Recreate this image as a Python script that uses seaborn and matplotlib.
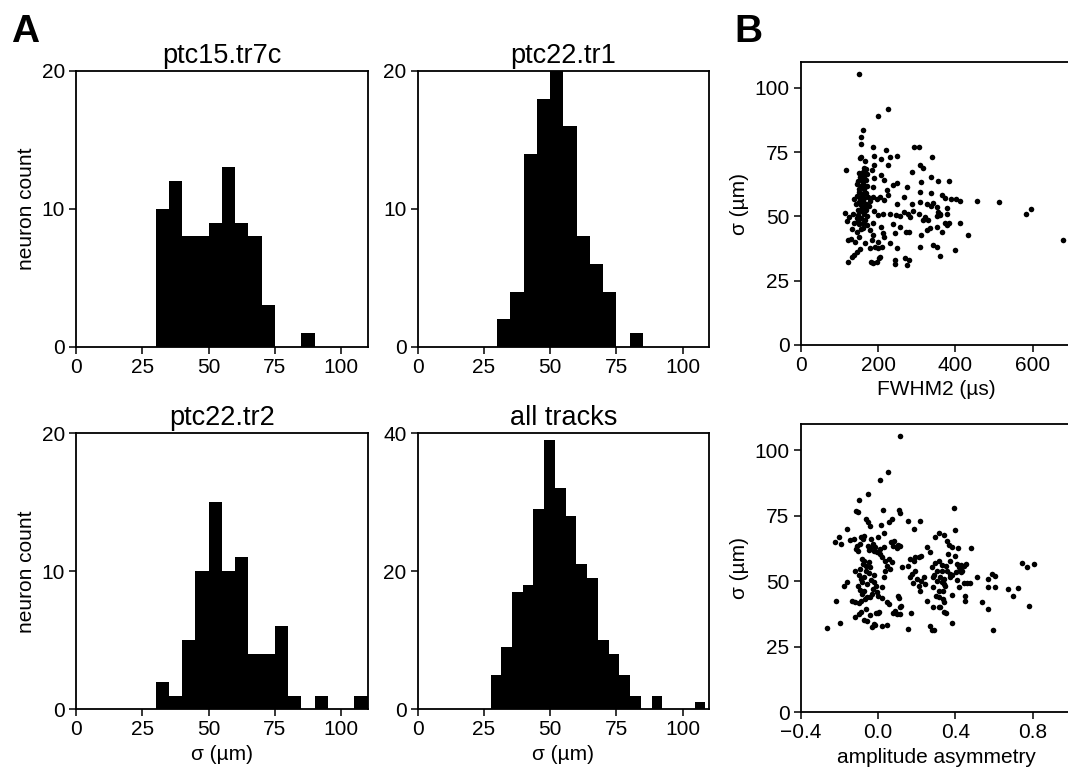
import numpy as np
import pandas as pd
import matplotlib
matplotlib.use('Agg')
import matplotlib.pyplot as plt
import seaborn as sns

sns.set_style('ticks')
plt.rcParams['font.family'] = ['Liberation Sans', 'DejaVu Sans']
plt.rcParams['axes.unicode_minus'] = True
plt.rcParams['text.color'] = 'black'
plt.rcParams['axes.labelcolor'] = 'black'

# --- histogram data (neuron counts per 5 um bin) ---
bin_width = 5
tr7c_start = 30
tr7c_counts = [10, 12, 8, 8, 9, 13, 9, 8, 3, 0, 0, 1]
tr1_start = 30
tr1_counts = [2, 4, 14, 18, 20, 16, 8, 6, 4, 0, 1]
tr2_start = 30
tr2_counts = [2, 1, 5, 10, 15, 10, 11, 4, 4, 6, 1, 0, 1, 0, 0, 1]
# all tracks: 20 equal bins between min and max sigma
all_lo, all_hi = 27.5, 108.5
all_counts = [5, 9, 17, 18, 29, 39, 32, 28, 21, 19, 10, 8, 5, 2, 0, 2, 0, 0, 0, 1]

hist_titles = ['ptc15.tr7c', 'ptc22.tr1', 'ptc22.tr2', 'all tracks']
hist_ymax = [20, 20, 20, 40]
hist_yticks = [[0, 10, 20], [0, 10, 20], [0, 10, 20], [0, 20, 40]]
hist_xticks = [0, 25, 50, 75, 100]

# --- scatter data: (FWHM2 in us, sigma in um) ---
fwhm_pts = [
    (150.8, 105.6), (226.7, 91.9), (200.0, 88.9), (162.0, 83.6), (156.9, 81.1), (155.1, 78.1),
    (186.2, 77.0), (293.9, 77.2), (305.1, 77.1), (220.6, 75.8), (190.5, 73.7), (152.5, 72.9),
    (156.0, 73.2), (208.6, 72.4), (231.0, 73.2), (250.0, 73.7), (340.5, 73.2), (165.5, 71.6),
    (226.7, 70.1), (190.5, 70.1), (118.1, 68.1), (185.3, 68.1), (308.6, 70.1), (317.2, 68.7),
    (288.7, 67.1), (150.8, 67.0), (162.0, 67.4), (168.9, 68.3), (153.4, 65.4), (163.7, 65.7),
    (172.4, 66.5), (149.1, 63.8), (160.3, 63.5), (168.9, 64.1), (156.0, 61.8), (163.7, 60.5),
    (157.7, 58.9), (163.7, 57.0), (168.9, 55.0), (158.6, 53.1), (164.6, 51.1), (155.1, 49.2),
    (162.0, 47.3), (145.0, 62.5), (158.0, 66.0), (167.0, 62.0), (152.0, 59.5), (160.0, 56.0),
    (170.0, 59.0), (150.0, 55.5), (157.0, 52.0), (166.0, 54.0), (148.0, 50.5), (172.0, 50.0),
    (160.0, 45.5), (206.8, 66.1), (189.6, 65.0), (215.5, 64.0), (239.6, 62.2), (248.2, 62.8),
    (186.2, 61.5), (222.4, 60.2), (275.0, 61.3), (310.3, 63.3), (337.9, 65.4), (356.0, 63.9),
    (382.7, 63.6), (308.6, 59.6), (336.1, 59.2), (366.3, 58.5), (374.1, 57.1), (138.7, 56.6),
    (187.9, 57.6), (196.5, 56.6), (205.1, 57.4), (215.5, 56.3), (179.3, 56.1), (226.7, 58.5),
    (248.2, 54.8), (268.0, 57.6), (287.0, 55.0), (308.6, 55.7), (325.8, 55.0), (343.0, 55.3),
    (351.7, 53.7), (336.1, 54.0), (356.0, 51.8), (360.3, 51.1), (377.5, 53.1), (388.7, 56.7),
    (400.8, 56.7), (412.9, 55.8), (456.8, 56.1), (512.9, 55.4), (581.8, 50.9), (594.8, 52.8),
    (114.6, 51.4), (125.8, 49.9), (118.9, 48.3), (134.4, 51.1), (144.8, 49.2), (149.1, 48.3),
    (190.5, 52.1), (200.8, 50.5), (213.7, 51.1), (231.0, 50.9), (246.5, 50.4), (256.8, 50.1),
    (267.2, 51.8), (278.4, 51.1), (282.7, 49.9), (291.3, 52.2), (306.8, 51.1), (321.5, 49.9),
    (330.1, 48.6), (317.2, 48.6), (353.4, 50.1), (360.3, 50.6), (377.5, 51.1), (373.2, 47.5),
    (377.5, 46.6), (384.4, 47.5), (412.0, 47.3), (170.6, 46.6), (187.9, 47.3), (206.8, 46.0),
    (239.6, 47.0), (256.8, 46.0), (271.5, 44.0), (281.0, 44.0), (156.8, 44.9), (179.3, 44.7),
    (187.9, 42.7), (212.0, 43.6), (215.5, 42.1), (243.9, 43.6), (311.1, 42.7), (325.8, 44.7),
    (334.4, 45.3), (351.7, 46.0), (364.6, 44.0), (123.2, 40.8), (130.1, 41.3), (140.5, 40.1),
    (151.7, 42.1), (165.5, 39.7), (183.6, 40.8), (200.8, 40.1), (231.0, 39.7), (209.4, 38.2),
    (200.8, 37.5), (179.3, 37.8), (192.2, 38.2), (248.2, 37.5), (307.7, 38.2), (343.0, 38.8),
    (351.7, 37.9), (360.3, 34.4), (400.0, 36.9), (431.8, 42.6), (677.5, 40.8), (153.4, 37.1),
    (144.8, 36.2), (137.9, 34.9), (131.9, 34.0), (122.4, 32.4), (181.8, 32.1), (187.9, 31.7),
    (201.7, 33.6), (198.2, 32.4), (205.1, 34.3), (243.9, 33.0), (243.9, 31.4), (270.6, 33.6),
    (280.1, 33.0), (274.1, 31.1), (146.0, 58.0), (154.0, 57.0), (165.0, 59.0), (171.0, 62.0),
    (150.0, 60.5), (158.0, 64.5), (163.0, 69.0), (148.0, 52.5), (155.0, 54.5), (169.0, 52.5),
    (175.0, 57.5), (143.0, 55.0), (152.0, 47.0), (167.0, 48.5), (176.0, 54.0), (145.0, 44.0),
    (139.0, 47.5), (133.0, 45.0),
]

# --- scatter data: (amplitude asymmetry, sigma in um) ---
asym_pts = [
    (0.112, 105.4), (0.050, 91.7), (0.010, 88.7), (-0.054, 83.5), (-0.100, 81.0), (-0.112, 76.8),
    (-0.106, 76.5), (0.025, 77.1), (0.108, 77.1), (0.115, 75.9), (-0.064, 73.7), (-0.052, 72.5),
    (-0.040, 71.2), (0.017, 71.6), (0.055, 72.7), (0.072, 73.7), (0.153, 73.1), (0.219, 73.1),
    (-0.162, 69.9), (0.187, 69.9), (0.393, 77.9), (0.396, 69.7), (-0.200, 67.0), (-0.225, 65.1),
    (-0.190, 64.2), (-0.144, 65.7), (-0.126, 66.1), (-0.088, 67.0), (-0.071, 67.4), (-0.078, 66.1),
    (-0.037, 66.1), (-0.002, 67.0), (0.029, 68.3), (-0.109, 63.6), (-0.095, 64.2), (-0.112, 62.3),
    (-0.106, 61.4), (-0.052, 63.6), (-0.040, 62.7), (-0.026, 64.2), (-0.014, 62.9), (-0.049, 61.9),
    (-0.019, 61.7), (-0.005, 61.0), (0.012, 62.3), (0.008, 60.4), (0.032, 63.2), (0.069, 65.1),
    (0.084, 65.5), (0.077, 63.6), (0.106, 64.0), (0.098, 62.7), (0.115, 63.6), (0.124, 55.3),
    (0.153, 55.9), (0.167, 58.5), (0.184, 57.8), (0.193, 59.1), (0.210, 59.4), (0.222, 59.6),
    (0.253, 63.2), (0.267, 61.0), (0.296, 67.0), (0.317, 68.6), (0.339, 67.8), (0.356, 65.2),
    (0.365, 63.8), (0.382, 63.2), (0.362, 60.4), (0.400, 59.6), (0.370, 57.8), (0.331, 56.3),
    (0.353, 55.9), (0.408, 56.6), (0.417, 55.3), (0.429, 56.3), (0.443, 55.9), (0.456, 56.6),
    (0.425, 54.7), (0.434, 54.0), (0.331, 54.0), (0.356, 54.0), (0.374, 52.8), (0.405, 53.4),
    (0.429, 53.4), (0.322, 51.5), (0.339, 50.9), (0.374, 51.5), (0.382, 52.2), (0.408, 50.6),
    (0.339, 49.0), (0.348, 48.3), (0.446, 49.4), (0.460, 49.2), (0.474, 49.2), (0.513, 51.5),
    (0.567, 50.7), (0.589, 52.8), (0.606, 52.0), (0.420, 47.7), (0.569, 47.7), (0.606, 47.7),
    (0.675, 47.1), (0.722, 47.3), (0.696, 44.3), (0.336, 46.4), (0.382, 44.9), (0.448, 44.2),
    (0.448, 42.4), (0.336, 43.3), (0.339, 42.0), (0.536, 42.2), (0.779, 40.7), (0.569, 39.2),
    (0.353, 37.9), (0.322, 40.1), (0.382, 34.1), (0.593, 31.2), (0.479, 62.8), (0.415, 62.7),
    (0.743, 56.8), (0.772, 55.3), (0.808, 56.6), (0.175, 52.8), (0.193, 54.0), (0.163, 51.5),
    (0.201, 50.9), (0.180, 49.2), (0.210, 48.0), (0.222, 50.0), (0.236, 51.5), (0.219, 46.4),
    (0.244, 49.0), (0.253, 42.6), (0.279, 55.6), (0.296, 56.8), (0.313, 57.8), (0.305, 54.0),
    (0.291, 52.2), (0.284, 51.5), (0.305, 50.2), (0.331, 49.6), (0.287, 47.7), (0.313, 46.4),
    (0.301, 44.5), (0.318, 43.9), (0.284, 40.0), (0.313, 40.0), (0.267, 32.7), (0.279, 31.2),
    (0.291, 31.2), (0.156, 31.6), (0.169, 37.8), (0.103, 44.2), (0.110, 43.5), (0.115, 40.1),
    (0.112, 37.3), (0.118, 40.7), (0.075, 37.8), (0.089, 38.6), (0.020, 32.7), (0.046, 33.4),
    (-0.023, 33.7), (-0.031, 32.5), (-0.014, 33.1), (-0.002, 37.8), (0.003, 38.2), (-0.071, 35.3),
    (-0.057, 34.8), (-0.121, 36.3), (-0.100, 37.3), (-0.087, 38.2), (-0.061, 39.5), (-0.135, 42.6),
    (-0.118, 42.0), (-0.100, 41.6), (-0.216, 42.4), (-0.264, 32.1), (-0.199, 34.1), (-0.040, 36.9),
    (-0.009, 37.8), (0.046, 42.0), (0.055, 41.1), (0.098, 37.6), (0.343, 38.2), (-0.088, 42.4),
    (-0.066, 43.3), (-0.040, 43.9), (-0.083, 45.2), (-0.075, 46.2), (-0.057, 43.9), (-0.031, 45.2),
    (-0.005, 45.8), (-0.002, 44.3), (-0.106, 48.1), (-0.095, 46.7), (-0.161, 49.6), (-0.175, 48.3),
    (-0.118, 54.0), (-0.100, 52.5), (-0.088, 50.9), (-0.075, 51.5), (-0.083, 49.6), (-0.061, 54.0),
    (-0.044, 53.0), (-0.023, 52.2), (-0.037, 50.6), (-0.057, 49.0), (-0.019, 49.6), (-0.009, 48.3),
    (-0.026, 47.1), (-0.083, 58.5), (-0.075, 57.6), (-0.078, 56.6), (-0.061, 55.9), (-0.049, 57.2),
    (-0.040, 55.3), (-0.092, 54.7), (0.020, 59.1), (0.038, 57.8), (0.055, 58.5), (0.072, 57.2),
    (0.046, 55.9), (0.063, 54.7), (0.038, 54.0), (0.020, 47.7), (0.032, 51.5), (0.022, 43.4),
]

FS = 15
TITLE_FS = 19.5

fig = plt.figure(figsize=(10.68, 7.78), dpi=100)

hist_pos = [
    [0.0712, 0.5544, 0.2731, 0.3544],
    [0.3910, 0.5544, 0.2731, 0.3544],
    [0.0712, 0.0883, 0.2731, 0.3548],
    [0.3910, 0.0883, 0.2731, 0.3548],
]


def edges_from(start, counts):
    return start + bin_width * np.arange(len(counts) + 1)


hist_edges = [
    edges_from(tr7c_start, tr7c_counts),
    edges_from(tr1_start, tr1_counts),
    edges_from(tr2_start, tr2_counts),
    np.linspace(all_lo, all_hi, len(all_counts) + 1),
]
hist_counts = [tr7c_counts, tr1_counts, tr2_counts, all_counts]


def style_axes(ax):
    for sp in ax.spines.values():
        sp.set_linewidth(1.3)
        sp.set_color('black')
    ax.tick_params(direction='out', length=5, width=1.1, labelsize=FS, colors='black', pad=3)


for i in range(4):
    ax = fig.add_axes(hist_pos[i])
    edges = hist_edges[i]
    centers = (edges[:-1] + edges[1:]) / 2
    df = pd.DataFrame({'sigma': centers, 'count': hist_counts[i]})
    sns.histplot(data=df, x='sigma', weights='count', bins=[float(e) for e in edges], ax=ax,
                 color='black', alpha=1, edgecolor='black', linewidth=0)
    ax.set_xlim(0, 110)
    ax.set_ylim(0, hist_ymax[i])
    ax.set_xticks(hist_xticks)
    ax.set_yticks(hist_yticks[i])
    ax.set_title(hist_titles[i], fontsize=TITLE_FS, pad=6, color='black')
    ax.set_xlabel('σ (µm)' if i >= 2 else '', fontsize=FS)
    ax.set_ylabel('neuron count' if i % 2 == 0 else '', fontsize=FS)
    style_axes(ax)

# scatter B top
fw = pd.DataFrame(fwhm_pts, columns=['fwhm2', 'sigma'])
ax = fig.add_axes([0.7497, 0.5569, 0.2535, 0.3630])
sns.scatterplot(data=fw, x='fwhm2', y='sigma', ax=ax, color='black', s=16,
                edgecolor=None, linewidth=0)
ax.set_xlim(0, 700)
ax.set_ylim(0, 110)
ax.set_xticks([0, 200, 400, 600])
ax.set_yticks([0, 25, 50, 75, 100])
ax.set_xlabel('FWHM2 (µs)', fontsize=FS)
ax.set_ylabel('σ (µm)', fontsize=FS)
style_axes(ax)

# scatter B bottom
am = pd.DataFrame(asym_pts, columns=['asym', 'sigma'])
ax = fig.add_axes([0.7497, 0.0848, 0.2534, 0.3700])
sns.scatterplot(data=am, x='asym', y='sigma', ax=ax, color='black', s=16,
                edgecolor=None, linewidth=0)
ax.set_xlim(-0.4, 1.0)
ax.set_ylim(0, 110)
ax.set_xticks([-0.4, 0.0, 0.4, 0.8])
ax.set_xticklabels(['\u22120.4', '0.0', '0.4', '0.8'])
ax.set_yticks([0, 25, 50, 75, 100])
ax.set_xlabel('amplitude asymmetry', fontsize=FS)
ax.set_ylabel('σ (µm)', fontsize=FS)
style_axes(ax)

fig.text(0.010, 0.946, 'A', fontsize=28, fontweight='bold', color='black')
fig.text(0.688, 0.946, 'B', fontsize=28, fontweight='bold', color='black')

fig.savefig('out.png', dpi=100)
